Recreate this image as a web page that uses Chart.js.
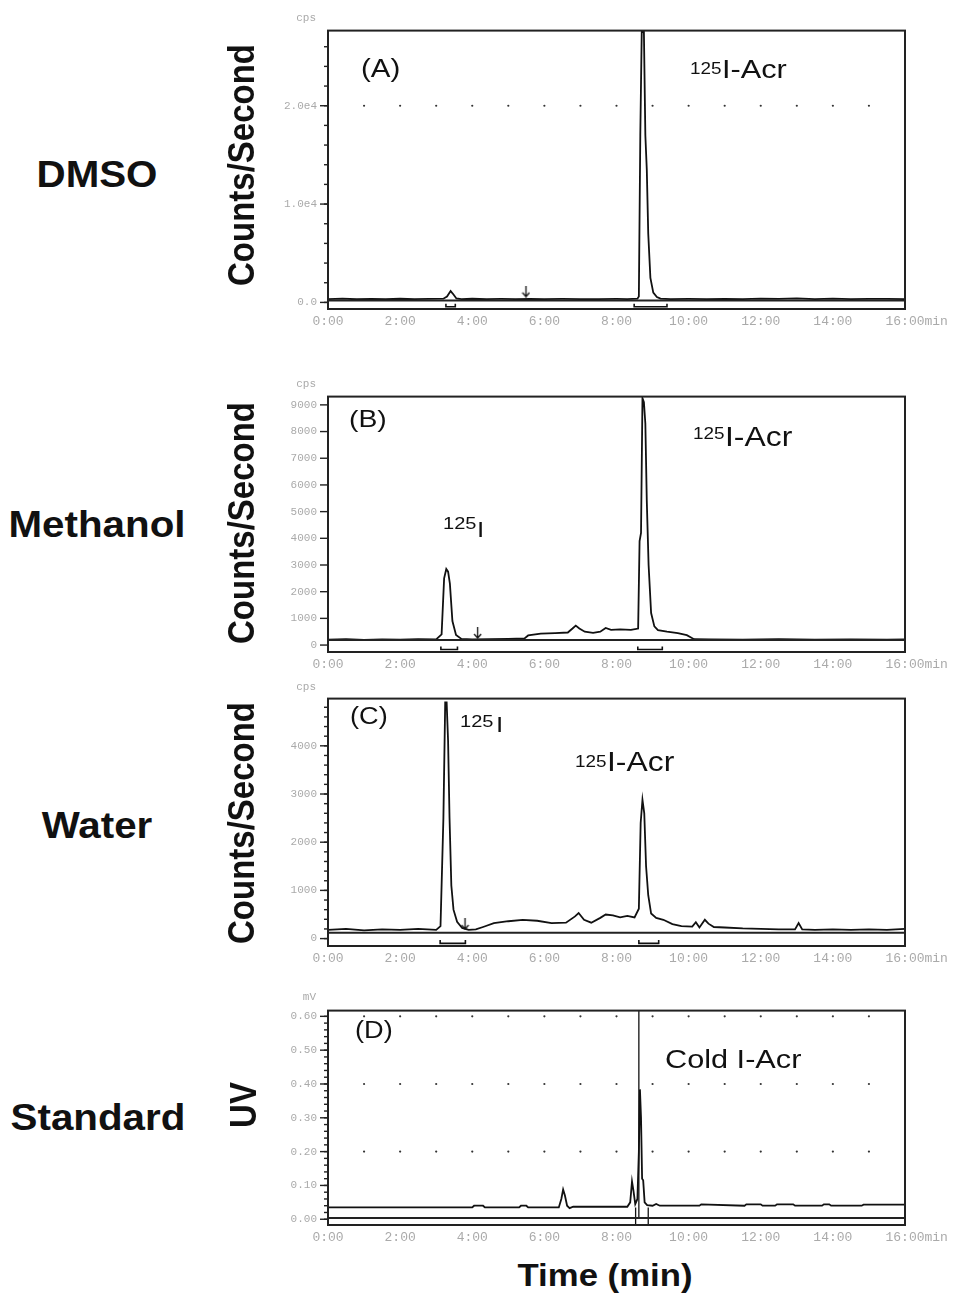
<!DOCTYPE html>
<html>
<head>
<meta charset="utf-8">
<script src="https://cdn.jsdelivr.net/npm/chart.js@4.4.0/dist/chart.umd.min.js"></script>
<style>
  body { margin: 0; background: #fff; width: 958px; height: 1294px; position: relative; overflow: hidden; }
  .panel { position: absolute; left: 220px; width: 738px; }
  .t { position: absolute; white-space: nowrap; line-height: 1; color: #111; font-family: "Liberation Sans", Arial, sans-serif; }
  .ann { transform-origin: 0 0; transform: scaleX(1.18); }
  .mid { transform: translate(-50%, -50%) scaleX(1.12); font-weight: bold; }
  .rot { transform: translate(-50%, -50%) scaleX(1.12) rotate(-90deg); font-weight: bold; }
  .unit { position: absolute; font: 11px "Liberation Mono", monospace; color: #aaa; text-align: right; width: 40px; }
</style>
</head>
<body>

<div class="panel" style="top:13px;height:322px"><canvas id="chA"></canvas></div>
<div class="panel" style="top:379px;height:299px"><canvas id="chB"></canvas></div>
<div class="panel" style="top:681px;height:291px"><canvas id="chC"></canvas></div>
<div class="panel" style="top:993px;height:258px"><canvas id="chD"></canvas></div>

<div class="unit" style="left:276px;top:12px">cps</div>
<div class="unit" style="left:276px;top:378px">cps</div>
<div class="unit" style="left:276px;top:681px">cps</div>
<div class="unit" style="left:276px;top:991px">mV</div>

<script>
// x axis (time, min)
const xTicks = [0, 2, 4, 6, 8, 10, 12, 14, 16];
const xTickLabels = ["0:00", "2:00", "4:00", "6:00", "8:00", "10:00", "12:00", "14:00", "   16:00min"];
const dotMinutes = [1, 2, 3, 4, 5, 6, 7, 8, 9, 10, 11, 12, 13, 14, 15];

// (A) DMSO
const tA = [0, 0.4, 0.8, 1.2, 1.6, 2.0, 2.4, 2.8, 3.2, 3.3, 3.4, 3.48, 3.56, 3.7, 4.0, 4.4, 4.8, 5.2, 5.6, 6.0, 6.5, 7.0, 7.5, 8.0, 8.3, 8.58, 8.62, 8.66, 8.7, 8.76, 8.8, 8.84, 8.88, 8.94, 9.02, 9.12, 9.22, 9.5, 10.0, 10.5, 11.0, 11.5, 12.0, 12.5, 13.0, 13.5, 14.0, 14.5, 15.0, 15.5, 16.0];
const cpsA = [330, 380, 320, 360, 340, 370, 330, 350, 380, 600, 1150, 800, 400, 340, 370, 330, 350, 340, 360, 330, 350, 340, 330, 350, 340, 380, 600, 17000, 27500, 27500, 17000, 13500, 7000, 2500, 1000, 550, 380, 340, 350, 330, 360, 340, 380, 350, 420, 330, 380, 340, 360, 350, 340];
const yTicksA = [0, 10000, 20000];
const yLabelsA = ["0.0", "1.0e4", "2.0e4"];

// (B) Methanol
const tB = [0, 0.5, 1.0, 1.5, 2.0, 2.5, 3.0, 3.15, 3.22, 3.28, 3.33, 3.38, 3.45, 3.55, 3.7, 4.0, 4.5, 5.0, 5.45, 5.55, 5.9, 6.3, 6.65, 6.78, 6.87, 6.97, 7.12, 7.35, 7.55, 7.7, 7.85, 8.1, 8.4, 8.6, 8.64, 8.68, 8.72, 8.76, 8.8, 8.84, 8.89, 8.96, 9.05, 9.15, 9.4, 9.7, 9.95, 10.15, 10.6, 11.5, 12.5, 13.5, 14.5, 15.5, 16.0];
const cpsB = [200, 220, 190, 210, 200, 220, 210, 400, 2500, 2850, 2750, 2300, 900, 380, 230, 210, 220, 230, 250, 360, 430, 450, 470, 620, 730, 620, 500, 460, 500, 640, 570, 590, 570, 620, 3900, 4200, 9250, 9100, 8300, 5400, 3000, 1200, 700, 560, 500, 450, 370, 220, 210, 200, 220, 200, 210, 200, 210];
const yTicksB = [0, 1000, 2000, 3000, 4000, 5000, 6000, 7000, 8000, 9000];
const yLabelsB = ["0", "1000", "2000", "3000", "4000", "5000", "6000", "7000", "8000", "9000"];

// (C) Water
const tC = [0, 0.5, 1.0, 1.5, 2.0, 2.5, 3.0, 3.12, 3.2, 3.25, 3.29, 3.33, 3.37, 3.42, 3.48, 3.58, 3.72, 3.9, 4.1, 4.3, 4.6, 5.0, 5.4, 5.8, 6.2, 6.6, 6.85, 6.95, 7.1, 7.3, 7.55, 7.7, 7.9, 8.1, 8.3, 8.5, 8.62, 8.67, 8.72, 8.77, 8.82, 8.88, 8.96, 9.1, 9.3, 9.55, 9.8, 10.1, 10.2, 10.3, 10.45, 10.55, 10.7, 11.0, 11.5, 12.0, 12.5, 12.95, 13.05, 13.15, 13.5, 14.0, 14.5, 15.0, 15.5, 16.0];
const cpsC = [180, 200, 170, 190, 180, 200, 180, 260, 2500, 4900, 4900, 4100, 2500, 1100, 600, 350, 220, 180, 190, 240, 320, 360, 390, 370, 320, 330, 460, 530, 390, 330, 430, 500, 480, 440, 470, 440, 620, 2400, 2880, 2600, 1500, 900, 520, 430, 390, 300, 260, 250, 340, 230, 390, 310, 240, 230, 210, 200, 190, 190, 320, 190, 180, 190, 180, 190, 180, 200];
const yTicksC = [0, 1000, 2000, 3000, 4000];
const yLabelsC = ["0", "1000", "2000", "3000", "4000"];

// (D) Standard, UV
const tD = [0, 1, 2, 3, 4.0, 4.05, 4.3, 4.35, 5.3, 5.35, 5.5, 5.55, 6.4, 6.47, 6.52, 6.57, 6.63, 6.7, 6.8, 7.5, 8.3, 8.38, 8.43, 8.47, 8.52, 8.58, 8.62, 8.65, 8.68, 8.71, 8.74, 8.78, 8.85, 9.0, 9.1, 9.2, 9.25, 10.3, 10.35, 11.55, 11.6, 12.0, 12.05, 12.4, 12.45, 12.9, 12.95, 13.7, 13.75, 13.9, 13.95, 14.8, 14.85, 16.0];
const mvD = [0.035, 0.035, 0.035, 0.035, 0.035, 0.04, 0.04, 0.035, 0.035, 0.04, 0.04, 0.035, 0.035, 0.06, 0.088, 0.07, 0.04, 0.033, 0.037, 0.037, 0.037, 0.05, 0.112, 0.085, 0.045, 0.06, 0.2, 0.384, 0.3, 0.12, 0.115, 0.05, 0.042, 0.04, 0.045, 0.04, 0.04, 0.04, 0.044, 0.04, 0.044, 0.044, 0.04, 0.04, 0.044, 0.044, 0.04, 0.04, 0.044, 0.044, 0.04, 0.04, 0.043, 0.043];
const yTicksD = [0, 0.1, 0.2, 0.3, 0.4, 0.5, 0.6];
const yLabelsD = ["0.00", "0.10", "0.20", "0.30", "0.40", "0.50", "0.60"];

// integration windows and injection arrows
const winA = [[3.27, 3.53], [8.49, 9.4]];
const winB = [[3.13, 3.59], [8.59, 9.27]];
const winC = [[3.11, 3.81], [8.62, 9.17]];
const arrowA = [[5.49, 1100]];
const arrowB = [[4.15, 450]];
const arrowC = [[3.8, 300]];

function pts(xs, ys) {
  const n = Math.min(xs.length, ys.length);
  const out = [];
  for (let i = 0; i < n; i++) out.push({ x: xs[i], y: ys[i] });
  return out;
}

// little arrow used as point style
const arrowImg = document.createElement("canvas");
arrowImg.width = 9;
arrowImg.height = 12;
const ac = arrowImg.getContext("2d");
ac.strokeStyle = "#111";
ac.lineWidth = 1.3;
ac.beginPath();
ac.moveTo(4.5, 0); ac.lineTo(4.5, 11);
ac.moveTo(1, 7); ac.lineTo(4.5, 11); ac.lineTo(8, 7);
ac.stroke();

// frame + y tick marks (major and minor)
const frame = {
  id: "frame",
  afterDraw(chart, args, opts) {
    const ctx = chart.ctx;
    const a = chart.chartArea;
    const y = chart.scales.y;
    ctx.save();
    ctx.strokeStyle = "#222";
    ctx.lineWidth = 1.4;
    y.ticks.forEach(t => {
      const py = y.getPixelForValue(t.value);
      ctx.beginPath(); ctx.moveTo(a.left - 8, py); ctx.lineTo(a.left, py); ctx.stroke();
    });
    if (opts.minor) {
      const i0 = Math.ceil(y.min / opts.minor), i1 = Math.floor(y.max / opts.minor);
      for (let i = i0; i <= i1; i++) {
        const py = y.getPixelForValue(i * opts.minor);
        ctx.beginPath(); ctx.moveTo(a.left - 4, py); ctx.lineTo(a.left, py); ctx.stroke();
      }
    }
    ctx.lineWidth = 2;
    ctx.strokeRect(a.left, a.top, a.right - a.left, a.bottom - a.top);
    ctx.restore();
  }
};

function panel(id, p) {
  const ds = [];
  // straight baseline
  ds.push({ data: pts([0, 16], [p.ref, p.ref]), borderColor: "#222", borderWidth: 2 });
  // trace
  ds.push({ data: pts(p.t, p.v), borderColor: "#111", borderWidth: 1.8 });
  // integration brackets
  (p.win || []).forEach(w => {
    const lo = p.min * 0.65, hi = p.min * 0.2;
    ds.push({ data: pts([w[0], w[0], w[1], w[1]], [hi, lo, lo, hi]), borderColor: "#111", borderWidth: 1.6 });
  });
  // arrows
  if (p.arrows) {
    ds.push({ data: p.arrows.map(q => ({ x: q[0], y: q[1] })), showLine: false, pointStyle: arrowImg, pointRadius: 5 });
  }
  // dotted grid rows
  (p.dotRows || []).forEach(r => {
    ds.push({ data: dotMinutes.map(m => ({ x: m, y: r })), showLine: false, pointRadius: 1.1, pointBackgroundColor: "#333", pointBorderWidth: 0 });
  });
  // vertical marker lines
  (p.vlines || []).forEach(v => {
    ds.push({ data: pts([v[0], v[0]], [v[1], v[2]]), borderColor: "#111", borderWidth: 1.3 });
  });

  new Chart(document.getElementById(id), {
    type: "line",
    data: { datasets: ds },
    options: {
      responsive: true,
      maintainAspectRatio: false,
      animation: false,
      layout: { padding: { top: 8, right: 53, bottom: 0, left: 0 } },
      elements: { point: { radius: 0 }, line: { tension: 0 } },
      plugins: { legend: { display: false }, tooltip: { enabled: false }, frame: { minor: p.minor } },
      scales: {
        x: {
          type: "linear", min: 0, max: 16,
          grid: { display: false, drawTicks: false },
          border: { display: false },
          afterBuildTicks: s => { s.ticks = xTicks.map(v => ({ value: v })); },
          afterFit: s => { s.height = 26; },
          ticks: {
            autoSkip: false, maxRotation: 0, padding: 5, color: "#aaa",
            font: { family: "Liberation Mono", size: 13 },
            callback: (v, i) => xTickLabels[i]
          }
        },
        y: {
          min: p.min, max: p.max,
          grid: { display: false, drawTicks: false },
          border: { display: false },
          afterBuildTicks: s => { s.ticks = p.yTicks.map(v => ({ value: v })); },
          afterFit: s => { s.width = 108; },
          ticks: {
            padding: 11, color: "#aaa",
            font: { family: "Liberation Mono", size: 11 },
            callback: (v, i) => p.yLabels[i]
          }
        }
      }
    },
    plugins: [frame]
  });
}

panel("chA", { t: tA, v: cpsA, min: -670, max: 27640, ref: 200, yTicks: yTicksA, yLabels: yLabelsA, minor: 2000, win: winA, arrows: arrowA, dotRows: [20000] });
panel("chB", { t: tB, v: cpsB, min: -260, max: 9310, ref: 190, yTicks: yTicksB, yLabels: yLabelsB, win: winB, arrows: arrowB });
panel("chC", { t: tC, v: cpsC, min: -154, max: 4980, ref: 120, yTicks: yTicksC, yLabels: yLabelsC, minor: 200, win: winC, arrows: arrowC });
panel("chD", { t: tD, v: mvD, min: -0.017, max: 0.617, ref: 0.004, yTicks: yTicksD, yLabels: yLabelsD, minor: 0.02, dotRows: [0.2, 0.4, 0.6],
  vlines: [[8.62, 0.004, 0.617], [8.53, -0.017, 0.035], [8.88, -0.017, 0.035]] });

// text labels
function txt(s, x, base, size, cls) {
  const d = document.createElement("div");
  d.className = "t " + (cls || "ann");
  d.textContent = s;
  d.style.fontSize = size + "px";
  d.style.left = x + "px";
  d.style.top = (base - 0.8465 * size) + "px";
  document.body.appendChild(d);
}
function mid(s, x, y, size, cls) {
  const d = document.createElement("div");
  d.className = "t " + cls;
  d.textContent = s;
  d.style.fontSize = size + "px";
  d.style.left = x + "px";
  d.style.top = y + "px";
  document.body.appendChild(d);
}

mid("DMSO", 97, 175, 36, "mid");
mid("Methanol", 97, 525, 36, "mid");
mid("Water", 97, 826, 36, "mid");
mid("Standard", 98, 1118, 36, "mid");
mid("Counts/Second", 241, 165, 33, "rot");
mid("Counts/Second", 241, 523, 33, "rot");
mid("Counts/Second", 241, 823, 33, "rot");
mid("UV", 243, 1105, 33, "rot");
mid("Time (min)", 605, 1275, 31, "mid");

txt("(A)", 361, 77, 25);
txt("125", 690, 75, 16);
txt("I-Acr", 722, 78, 26);

txt("(B)", 349, 427, 24);
txt("125", 693, 440, 16);
txt("I-Acr", 725, 447, 27);
txt("125", 443, 529, 17);
txt("I", 477, 538, 22);

txt("(C)", 350, 724, 23);
txt("125", 460, 727, 17);
txt("I", 496, 733, 22);
txt("125", 575, 768, 16);
txt("I-Acr", 607, 772, 27);

txt("(D)", 355, 1038, 23);
txt("Cold I-Acr", 665, 1068, 26);
</script>
</body>
</html>
